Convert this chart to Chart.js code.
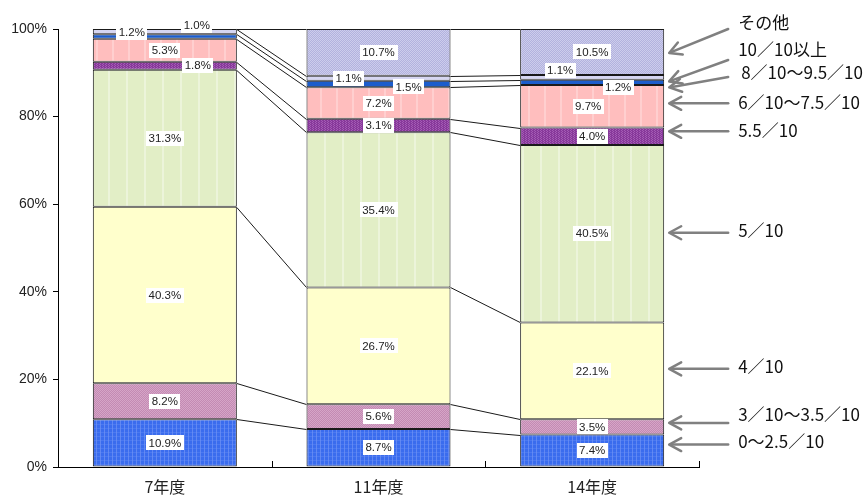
<!DOCTYPE html>
<html lang="ja">
<head>
<meta charset="utf-8">
<title>等級別構成比</title>
<script src="https://cdn.jsdelivr.net/npm/chart.js@4/dist/chart.umd.min.js"></script>
<style>
  html, body { margin: 0; padding: 0; background: #fff; }
</style>
</head>
<body>
<canvas id="chart" width="866" height="498"></canvas>
<script>
// 年度ごとの構成比（％）
const years = ['7年度', '11年度', '14年度'];
const grades = ['0～2.5／10', '3／10～3.5／10', '4／10', '5／10', '5.5／10',
                '6／10～7.5／10', '8／10～9.5／10', '10／10以上', 'その他'];
const share0to25 = [10.9, 8.7, 7.4];
const share3to35 = [8.2, 5.6, 3.5];
const share4     = [40.3, 26.7, 22.1];
const share5     = [31.3, 35.4, 40.5];
const share55    = [1.8, 3.1, 4.0];
const share6to75 = [5.3, 7.2, 9.7];
const share8to95 = [1.0, 1.5, 1.2];
const share10up  = [1.2, 1.1, 1.1];
const shareOther = [0, 10.7, 10.5];
const yTicks = [0, 20, 40, 60, 80, 100];

const seriesValues = [share0to25, share3to35, share4, share5, share55,
                      share6to75, share8to95, share10up, shareOther];

// 塗りパターン
function pattern(w, h, paint) {
  const c = document.createElement('canvas');
  c.width = w; c.height = h;
  const g = c.getContext('2d');
  paint(g, w, h);
  return g.createPattern(c, 'repeat');
}
const fills = [
  pattern(4, 4, (g) => {            // 0～2.5
    g.fillStyle = '#3a6cee'; g.fillRect(0, 0, 4, 4);
    g.fillStyle = '#6087f2'; g.fillRect(0, 0, 1, 4);
    g.fillStyle = 'rgba(110,145,245,0.35)'; g.fillRect(0, 0, 4, 1);
  }),
  pattern(2, 2, (g) => {            // 3～3.5
    g.fillStyle = '#c38ab3'; g.fillRect(0, 0, 2, 2);
    g.fillStyle = '#d6a5c7'; g.fillRect(0, 0, 1, 1); g.fillRect(1, 1, 1, 1);
  }),
  '#ffffcc',                        // 4
  pattern(18, 2, (g) => {           // 5
    g.fillStyle = '#e2eec6'; g.fillRect(0, 0, 18, 2);
    g.fillStyle = '#ecf4da'; g.fillRect(0, 0, 2, 2);
  }),
  pattern(3, 2, (g) => {            // 5.5
    g.fillStyle = '#87399a'; g.fillRect(0, 0, 3, 2);
    g.fillStyle = '#a55cb5'; g.fillRect(0, 0, 1, 1); g.fillRect(1, 1, 1, 1);
  }),
  pattern(16, 2, (g) => {           // 6～7.5
    g.fillStyle = '#ffbebe'; g.fillRect(0, 0, 16, 2);
    g.fillStyle = '#ffcfcf'; g.fillRect(0, 0, 2, 2);
  }),
  '#1c5dcc',                        // 8～9.5
  '#d6d6f2',                        // 10以上
  pattern(2, 2, (g) => {            // その他
    g.fillStyle = '#b2b2de'; g.fillRect(0, 0, 2, 2);
    g.fillStyle = '#cdcdec'; g.fillRect(0, 0, 1, 1); g.fillRect(1, 1, 1, 1);
  })
];

// ラベル位置の微調整 [系列-年度]: [dx, dy]
const labelNudge = {
  '4-0': [33, 0],
  '6-0': [32, -11],
  '7-0': [-33, 1],
  '6-1': [30, 3],
  '7-1': [-30, 0],
  '6-2': [26, 5],
  '7-2': [-32, -7],
  '5-2': [-4, 0]
};

// 右側の凡例（矢印つき）
const legendLayout = [
  { ds: 8, textY: 23,  tailY: 29,  tipDy: 1 },
  { ds: 7, textY: 50,  tailY: 60,  tipDy: 4 },
  { ds: 6, textY: 73,  tailY: 77,  tipDy: 5, indent: 3 },
  { ds: 5, textY: 103, tipDy: -3 },
  { ds: 4, textY: 131, tipDy: -5 },
  { ds: 3, textY: 231, tipDy: -1 },
  { ds: 2, textY: 367, tipDy: -2 },
  { ds: 1, textY: 415, tipDy: -4 },
  { ds: 0, textY: 442, tipDy: -6 }
];

const decorPlugin = {
  id: 'decor',
  afterDatasetsDraw(chart) {
    const ctx = chart.ctx;
    const metas = chart.data.datasets.map((d, i) => chart.getDatasetMeta(i));

    // 系列線（棒と棒の間をつなぐ）
    ctx.save();
    ctx.strokeStyle = '#1a1a1a';
    ctx.lineWidth = 1;
    metas.forEach((meta) => {
      for (let k = 0; k < meta.data.length - 1; k++) {
        const a = meta.data[k], b = meta.data[k + 1];
        ctx.beginPath();
        ctx.moveTo(a.x + a.width / 2, Math.round(a.y) + 0.5);
        ctx.lineTo(b.x - b.width / 2, Math.round(b.y) + 0.5);
        ctx.stroke();
      }
    });
    ctx.restore();

    // x軸の目盛（内向き）
    const xs = chart.scales.x, area = chart.chartArea;
    ctx.save();
    ctx.strokeStyle = '#000';
    ctx.lineWidth = 1;
    const step = xs.getPixelForValue(1) - xs.getPixelForValue(0);
    for (let k = 0; k < years.length; k++) {
      const px = Math.round(xs.getPixelForValue(k) + step / 2) + 0.5;
      ctx.beginPath();
      ctx.moveTo(px, area.bottom);
      ctx.lineTo(px, area.bottom - 6);
      ctx.stroke();
    }
    ctx.restore();

    // 値ラベル
    ctx.save();
    ctx.font = '11.5px "Liberation Sans", Arial, sans-serif';
    ctx.textAlign = 'center';
    ctx.textBaseline = 'middle';
    metas.forEach((meta, i) => {
      meta.data.forEach((bar, k) => {
        const v = seriesValues[i][k];
        if (!v) return;
        const nudge = labelNudge[i + '-' + k] || [0, 0];
        const txt = v.toFixed(1) + '%';
        const cx = bar.x + nudge[0];
        const cy = (bar.y + bar.base) / 2 + nudge[1];
        const w = ctx.measureText(txt).width + 5;
        ctx.fillStyle = '#fff';
        ctx.fillRect(Math.round(cx - w / 2), Math.round(cy - 7.5), Math.round(w), 15);
        ctx.fillStyle = '#222';
        ctx.fillText(txt, cx, cy + 0.5);
      });
    });
    ctx.restore();

    // 凡例と矢印
    const last = years.length - 1;
    ctx.save();
    ctx.font = '17px "Noto Sans CJK JP", sans-serif';
    ctx.textAlign = 'left';
    ctx.textBaseline = 'middle';
    legendLayout.forEach((item) => {
      const bar = metas[item.ds].data[last];
      const tipX = bar.x + bar.width / 2 + 5;
      const tipY = (bar.y + bar.base) / 2 + item.tipDy;
      const tailX = tipX + 59;
      const tailY = item.tailY !== undefined ? item.tailY : tipY;
      drawArrow(ctx, tailX, tailY, tipX, tipY);
      ctx.fillStyle = '#111';
      ctx.fillText(grades[item.ds], tailX + 10 + (item.indent || 0), item.textY);
    });
    ctx.restore();
  }
};

function drawArrow(ctx, x1, y1, x2, y2) {
  const ang = Math.atan2(y2 - y1, x2 - x1);
  const len = 12, half = 6.5;
  const bx = x2 - len * Math.cos(ang), by = y2 - len * Math.sin(ang);
  ctx.strokeStyle = '#808080';
  ctx.lineWidth = 2.5;
  ctx.lineCap = 'round';
  ctx.lineJoin = 'round';
  ctx.beginPath();
  ctx.moveTo(x1, y1);
  ctx.lineTo(x2 - 1.5 * Math.cos(ang), y2 - 1.5 * Math.sin(ang));
  ctx.stroke();
  ctx.beginPath();
  ctx.moveTo(bx + half * Math.sin(ang), by - half * Math.cos(ang));
  ctx.lineTo(x2, y2);
  ctx.lineTo(bx - half * Math.sin(ang), by + half * Math.cos(ang));
  ctx.stroke();
}

new Chart(document.getElementById('chart'), {
  type: 'bar',
  data: {
    labels: years,
    datasets: grades.map((g, i) => ({
      label: g,
      data: seriesValues[i],
      backgroundColor: fills[i],
      borderColor: '#1a1a1a',
      borderWidth: 1,
      borderSkipped: false,
      barPercentage: 0.674,
      categoryPercentage: 1
    }))
  },
  options: {
    responsive: false,
    animation: false,
    devicePixelRatio: 1,
    layout: { padding: { top: 29, right: 167, left: 0, bottom: 0 } },
    plugins: { legend: { display: false }, tooltip: { enabled: false } },
    scales: {
      x: {
        stacked: true,
        grid: { display: false },
        border: { display: true, color: '#000', width: 1 },
        ticks: {
          color: '#222',
          padding: 2,
          font: { family: '"Noto Sans CJK JP", sans-serif', size: 16 }
        },
        afterFit(s) { s.height = 31; }
      },
      y: {
        stacked: true,
        min: 0,
        max: 100,
        afterBuildTicks(s) { s.ticks = yTicks.map((v) => ({ value: v })); },
        grid: { drawOnChartArea: false, drawTicks: true, tickLength: 5, color: '#000' },
        border: { display: true, color: '#000', width: 1 },
        ticks: {
          color: '#222',
          padding: 6,
          font: { family: '"Liberation Sans", Arial, sans-serif', size: 14 },
          callback: (v) => v + '%'
        },
        afterFit(s) { s.width = 58; }
      }
    }
  },
  plugins: [decorPlugin]
});
</script>
</body>
</html>
